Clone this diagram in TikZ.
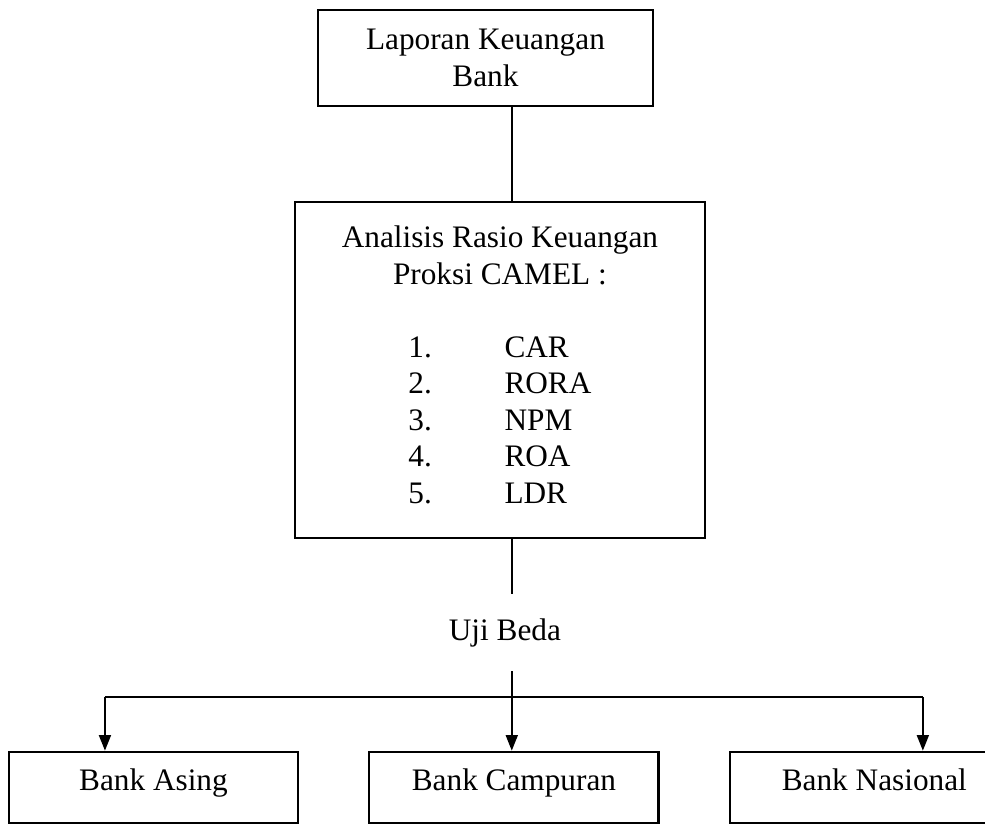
\documentclass[tikz,border=0pt]{standalone}
\usepackage{fontspec}
\setmainfont{Liberation Serif}
\usetikzlibrary{arrows.meta}

\begin{document}
\begin{tikzpicture}[
    line width = 0.9pt,
    font = \fontsize{12}{14}\selectfont,
    > = {Triangle[length = 6pt, width = 4.5pt]},
    kotak/.style = {draw,
      align = center},
    bank/.style = {kotak,
      minimum width = 3.9cm,
      minimum height = 0.96cm,
      text depth = 6pt},
    ]

    \useasboundingbox (0, 0) rectangle (13.28, 11.11);

    \node at (6.545, 10.326)
    [kotak, minimum width = 4.52cm, minimum height = 1.29cm, name = laporan]
    {Laporan Keuangan\\Bank};

    \node at (6.74, 6.12)
    [kotak, minimum width = 5.53cm, minimum height = 4.53cm, name = analisis]
    {Analisis Rasio Keuangan\\Proksi CAMEL :\\[14pt]
      \begin{tabular}[t]{@{}l@{\hspace{0.98cm}}l@{}}
        1. & CAR\\
        2. & RORA\\
        3. & NPM\\
        4. & ROA\\
        5. & LDR
      \end{tabular}};

    \node at (6.807, 2.48)
    [anchor = base, inner sep = 9pt, name = uji] {Uji Beda};

    \node at (2.069, 0.492) [bank, name = asing] {Bank Asing};
    \node at (6.929, 0.492) [bank, name = campuran] {Bank Campuran};
    \node at (11.788, 0.492) [bank, name = nasional] {Bank Nasional};

    \coordinate (spine) at (6.9, 0);
    \coordinate (kiri) at (1.415, 1.712);
    \coordinate (kanan) at (12.442, 1.712);

    \draw (laporan.south -| spine) -- (analisis.north -| spine);
    \draw (analisis.south -| spine) -- (uji.north -| spine);
    \draw [->] (uji.south -| spine) -- (campuran.north -| spine);

    \draw (kiri) -- (kanan);
    \draw [->] (kiri) -- (asing.north -| kiri);
    \draw [->] (kanan) -- (nasional.north -| kanan);

  \end{tikzpicture}
\end{document}
